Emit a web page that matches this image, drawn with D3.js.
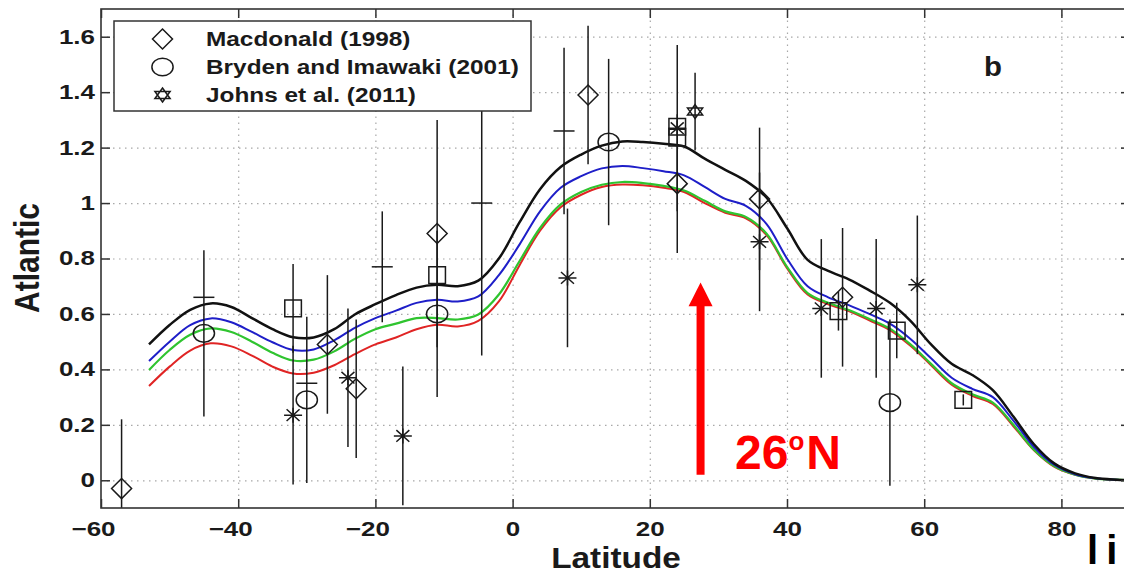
<!DOCTYPE html>
<html lang="en">
<head>
<meta charset="UTF-8">
<title>Atlantic transport by latitude</title>
<script src="https://cdn.jsdelivr.net/npm/d3@7"></script>
<style>
  body { margin: 0; background: #fff; }
  svg { display: block; font-family: "Liberation Sans", Arial, Helvetica, sans-serif; }
</style>
</head>
<body>
<svg id="chart" width="1124" height="573"></svg>
<script>
// model curves, sampled every 3 degrees
const lat = [-53,-50,-47,-44,-41,-38,-35,-32,-29,-26,-23,-20,-17,-14,-11,-8,-5,-2,1,4,7,10,13,16,19,22,25,28,31,34,37,40,43,46,49,52,55,58,61,64,67,70,73,76,79,82,85,88,90];
const blackLine = [0.49,0.56,0.615,0.638,0.625,0.585,0.545,0.516,0.515,0.545,0.598,0.635,0.668,0.695,0.705,0.70,0.72,0.80,0.93,1.05,1.13,1.175,1.207,1.222,1.22,1.214,1.204,1.16,1.12,1.08,1.02,0.91,0.795,0.755,0.725,0.685,0.64,0.575,0.49,0.42,0.38,0.325,0.23,0.13,0.06,0.025,0.008,0.002,0];
const blueLine  = [0.43,0.50,0.56,0.584,0.57,0.535,0.498,0.47,0.472,0.505,0.55,0.585,0.612,0.64,0.651,0.645,0.663,0.74,0.85,0.97,1.055,1.097,1.125,1.134,1.126,1.115,1.10,1.058,1.015,0.99,0.925,0.80,0.70,0.66,0.632,0.60,0.565,0.51,0.44,0.37,0.33,0.30,0.215,0.12,0.055,0.022,0.007,0.002,0];
const greenLine = [0.398,0.47,0.525,0.548,0.535,0.50,0.46,0.432,0.435,0.465,0.51,0.545,0.565,0.585,0.585,0.58,0.598,0.67,0.79,0.91,0.995,1.04,1.066,1.076,1.072,1.062,1.045,1.008,0.97,0.95,0.89,0.77,0.675,0.64,0.614,0.582,0.547,0.49,0.42,0.35,0.31,0.28,0.20,0.11,0.05,0.02,0.006,0.002,0];
const redLine   = [0.34,0.41,0.468,0.494,0.483,0.45,0.41,0.385,0.388,0.415,0.455,0.49,0.515,0.545,0.561,0.555,0.575,0.645,0.775,0.90,0.985,1.03,1.058,1.067,1.064,1.055,1.04,1.00,0.965,0.945,0.885,0.765,0.67,0.635,0.61,0.577,0.542,0.485,0.415,0.345,0.305,0.275,0.195,0.108,0.048,0.02,0.006,0.002,0];

const xTicks = [-60,-40,-20,0,20,40,60,80];
const yTicks = [0,0.2,0.4,0.6,0.8,1,1.2,1.4,1.6];

// observations: [latitude, value, error half-width]
const macdonald = [[-57,-0.03,0.25],[-27,0.49,0.25],[-22.8,0.33,0.25],[-11,0.89,0.41],[11,1.39,0.25],[24,1.07,0.25],[36,1.015,0.257],[48.1,0.66,0.25]];
const bryden = [[-45,0.53,0.3],[-30,0.29,0.3],[-11,0.60,0.3],[14,1.22,0.3],[55,0.28,0.3]];
const johns = [[26.6,1.33,0.14]];
const boxes = [[-32,0.62,0.16],[-11,0.74,0],[24,1.236,0],[24,1.275,0],[47.5,0.61,0.07],[56,0.54,0.1],[65.7,0.29,0.02]];
const stars = [[-32,0.235,0.25],[-24,0.37,0.25],[-16,0.16,0.25],[8,0.73,0.25],[24,1.27,0.3],[36,0.86,0.25],[45,0.62,0.25],[53,0.62,0.25],[59,0.705,0.25]];
const dashes = [[-45,0.66,0],[-30,0.35,0],[-19,0.77,0.2],[-4.5,1.0,0.55],[7.5,1.26,0.3]];

const legendLabels = ["Macdonald (1998)", "Bryden and Imawaki (2001)", "Johns et al. (2011)"];

// scales
const x = d3.scaleLinear().domain([-60, 90]).range([101, 1130]);
const y = d3.scaleLinear().domain([-0.1, 1.7]).range([508, 9]);
const ink = "#1a1a1a";

const svg = d3.select("#chart");
svg.append("rect").attr("width", 1124).attr("height", 573).attr("fill", "#fff");

svg.append("clipPath").attr("id", "plotClip")
  .append("rect")
  .attr("x", x(-60)).attr("y", y(1.7))
  .attr("width", x(90) - x(-60)).attr("height", y(-0.1) - y(1.7));

// grid
const gridX = svg.append("g")
  .attr("transform", "translate(0," + y(-0.1) + ")")
  .call(d3.axisBottom(x).tickValues(xTicks.slice(1)).tickSize(-(y(-0.1) - y(1.7))).tickFormat(""));
const gridY = svg.append("g")
  .attr("transform", "translate(" + x(-60) + ",0)")
  .call(d3.axisLeft(y).tickValues(yTicks).tickSize(-(x(90) - x(-60))).tickFormat(""));
[gridX, gridY].forEach(g => {
  g.select(".domain").remove();
  g.selectAll("line").attr("stroke", "#a8a8a8").attr("stroke-width", 1.2).attr("stroke-dasharray", "1.5,4.5");
});

const plot = svg.append("g").attr("clip-path", "url(#plotClip)");

// curves
const line = d3.line()
  .x((d, i) => x(lat[i]))
  .y(d => y(d))
  .curve(d3.curveCatmullRom.alpha(0.5));
[[redLine, "#e02424", 2], [greenLine, "#2fc42f", 2.2], [blueLine, "#1e1ec8", 2], [blackLine, "#111", 2.5]]
  .forEach(([vals, col, w]) => {
    plot.append("path").datum(vals)
      .attr("d", line)
      .attr("fill", "none")
      .attr("stroke", col)
      .attr("stroke-width", w);
  });

// marker shapes, drawn around (0,0)
function diamondPath(w, h) { return `M0,${-h}L${w},0L0,${h}L${-w},0Z`; }
function squarePath(s) { return `M${-s},${-s}H${s}V${s}H${-s}Z`; }
function starPath(w, h) {
  const dx = w * 0.72, dy = h * 0.78;
  return `M${-w},0H${w}M0,${-h}V${h}M${-dx},${-dy}L${dx},${dy}M${-dx},${dy}L${dx},${-dy}`;
}
function hexPath(r, sx) {
  const a = r * 0.866 * sx, b = r / 2;
  return `M0,${-r}L${a},${b}L${-a},${b}Z M0,${r}L${a},${-b}L${-a},${-b}Z`;
}
function dashPath(w) { return `M${-w},0H${w}`; }

const shapes = {
  diamond: diamondPath(10, 10),
  circle: null,
  square: squarePath(8.3),
  star: starPath(9, 7.5),
  hex: hexPath(7, 1.25),
  dash: dashPath(10.5)
};

function drawMarker(g, kind, cx, cy) {
  if (kind === "circle") {
    g.append("ellipse").attr("cx", cx).attr("cy", cy).attr("rx", 10.6).attr("ry", 8.8)
      .attr("fill", "none").attr("stroke", ink).attr("stroke-width", 1.5);
  } else {
    g.append("path").attr("d", shapes[kind])
      .attr("transform", "translate(" + cx + "," + cy + ")")
      .attr("fill", "none").attr("stroke", ink).attr("stroke-width", 1.5);
  }
}

function drawSet(data, kind) {
  const g = plot.append("g");
  data.forEach(d => {
    if (d[2] > 0) {
      g.append("line")
        .attr("x1", x(d[0])).attr("x2", x(d[0]))
        .attr("y1", y(d[1] - d[2])).attr("y2", y(d[1] + d[2]))
        .attr("stroke", ink).attr("stroke-width", 1.5);
    }
  });
  data.forEach(d => drawMarker(g, kind, x(d[0]), y(d[1])));
}

drawSet(dashes, "dash");
drawSet(stars, "star");
drawSet(boxes, "square");
drawSet(bryden, "circle");
drawSet(macdonald, "diamond");
drawSet(johns, "hex");

// axes: ticks point inward on all four sides
const fmt = d3.format("");
const tickLen = 9;
const xAxis = svg.append("g")
  .attr("transform", "translate(0," + y(-0.1) + ")")
  .call(d3.axisBottom(x).tickValues(xTicks).tickSizeInner(-tickLen).tickSizeOuter(0).tickPadding(14).tickFormat(fmt));
xAxis.selectAll("text")
  .attr("font-size", 20).attr("font-weight", "bold").attr("fill", ink)
  .attr("x", d => d < 0 ? -8 / 1.3 : 0)
  .attr("transform", "scale(1.3,1)");

const yAxis = svg.append("g")
  .attr("transform", "translate(" + x(-60) + ",0)")
  .call(d3.axisLeft(y).tickValues(yTicks).tickSizeInner(-tickLen).tickSizeOuter(0).tickPadding(6).tickFormat(d3.format("~g")));
yAxis.selectAll("text")
  .attr("font-size", 20).attr("font-weight", "bold").attr("fill", ink)
  .attr("x", -6 / 1.3)
  .attr("transform", "scale(1.3,1)");

svg.append("g").attr("transform", "translate(0," + y(1.7) + ")")
  .call(d3.axisTop(x).tickValues(xTicks).tickSizeInner(-tickLen).tickSizeOuter(0).tickFormat(""));
svg.append("g").attr("transform", "translate(" + x(90) + ",0)")
  .call(d3.axisRight(y).tickValues(yTicks).tickSizeInner(-tickLen).tickSizeOuter(0).tickFormat(""));

svg.selectAll(".domain").remove();
svg.selectAll(".tick line").filter(function () { return !this.getAttribute("stroke-dasharray"); })
  .attr("stroke", "#333").attr("stroke-width", 1.5);

svg.append("rect")
  .attr("x", x(-60)).attr("y", y(1.7))
  .attr("width", x(90) - x(-60)).attr("height", y(-0.1) - y(1.7))
  .attr("fill", "none").attr("stroke", "#333").attr("stroke-width", 1.6);

// stretched text helper
function label(str, px, py, size, sx, opts = {}) {
  return svg.append("text")
    .attr("transform", "translate(" + px + "," + py + ") scale(" + sx + ",1)" + (opts.rotate ? " rotate(" + opts.rotate + ")" : ""))
    .attr("text-anchor", opts.anchor || "start")
    .attr("font-size", size)
    .attr("font-weight", "bold")
    .attr("fill", opts.fill || ink)
    .text(str);
}

label("Latitude", 616, 568, 29, 1.15, { anchor: "middle" });
label("Atlantic", 39, 258, 30, 1.15, { anchor: "middle", rotate: -90 });
label("b", 993, 76, 28, 1.05, { anchor: "middle" });

// legend
const legend = svg.append("g");
legend.append("rect")
  .attr("x", 114).attr("y", 21).attr("width", 417).attr("height", 90)
  .attr("fill", "#fff").attr("stroke", "#333").attr("stroke-width", 1.5);
const legendKinds = ["diamond", "circle", "hex"];
legendLabels.forEach((t, i) => {
  const ry = 39 + i * 28;
  drawMarker(legend, legendKinds[i], 162.5, ry);
  legend.append("text")
    .attr("transform", "translate(206," + (ry + 7) + ") scale(1.25,1)")
    .attr("font-size", 19.5).attr("font-weight", "bold").attr("fill", ink)
    .text(t);
});

// 26N annotation
const arrowLat = 27.4;
const ax = x(arrowLat);
svg.append("line")
  .attr("x1", ax).attr("x2", ax)
  .attr("y1", y(0.02)).attr("y2", y(0.64))
  .attr("stroke", "#ff0000").attr("stroke-width", 8);
svg.append("path")
  .attr("d", `M${ax},${y(0.713)}L${ax + 12},${y(0.628)}L${ax - 12},${y(0.628)}Z`)
  .attr("fill", "#ff0000");
const note = svg.append("text")
  .attr("x", 735).attr("y", 469)
  .attr("font-size", 48).attr("font-weight", "bold").attr("fill", "#ff0000");
note.append("tspan").text("26");
note.append("tspan").attr("font-size", 26).attr("dy", -19).attr("dx", 0).text("o");
note.append("tspan").attr("dy", 19).attr("dx", 2).text("N");

// cropped neighbouring text at bottom right
const corner = svg.append("text")
  .attr("x", 1087).attr("y", 564)
  .attr("font-size", 40).attr("font-weight", "bold").attr("fill", "#000");
corner.append("tspan").text("l");
corner.append("tspan").attr("dx", 8).text("i");
</script>
</body>
</html>
